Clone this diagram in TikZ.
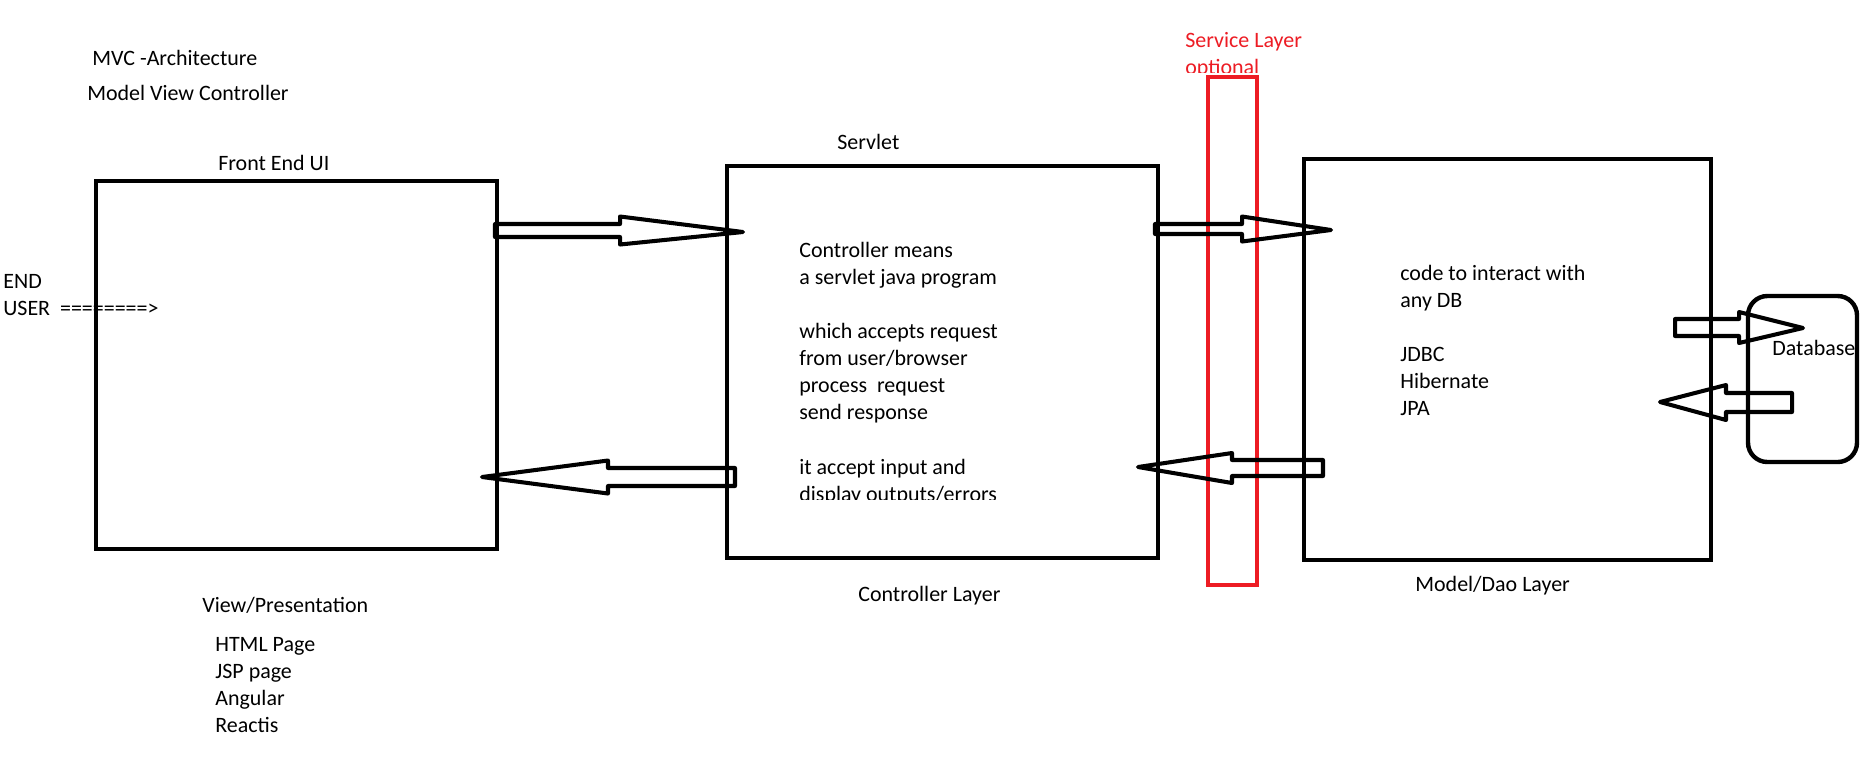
\documentclass[tikz,border=0pt]{standalone}
\usepackage{fontspec}
\setmainfont{Carlito}
\usepackage{tikz}
\usetikzlibrary{calc,fit}

\definecolor{paintred}{RGB}{237,28,36}
\newcommand{\px}{0.5690551pt}
\newcommand{\hollowarrow}[5]{%
 \draw[blockarrow] let \p1=(#1), \p2=(#2) in
  ({\x1},{\y1+#3*\px}) -- ({\x2-(#4)*\px},{\y1+#3*\px}) -- ({\x2-(#4)*\px},{\y1+#5*\px})
  -- (\x2,\y2) -- ({\x2-(#4)*\px},{\y1-#5*\px}) -- ({\x2-(#4)*\px},{\y1-#3*\px})
  -- ({\x1},{\y1-#3*\px}) -- cycle;}

\tikzset{
 box/.style={draw, line width=2.5pt, inner sep=0pt},
 blockarrow/.style={draw, line width=2.3pt, line join=round},
 txt/.style={inner sep=0pt, font=\fontsize{12.5pt}{15.4pt}\selectfont, align=left},
}

\begin{document}
\begin{tikzpicture}[x=0.02cm, y=-0.02cm]
 \path[use as bounding box, fill=white] (0,0) rectangle (1866,769);

 \node[txt, anchor=base west] (title) at (92,65) {MVC -Architecture};

 \node[txt, anchor=base west] (subtitle) at (87,100) {Model View Controller};

 \node[txt, anchor=base west] (uilabel) at (218,170) {Front End UI};

 \node[txt, anchor=base west] (svlabel) at (837,149) {Servlet};

 \node[txt, anchor=north west] (enduser) at (3,274) {END\\USER\ \ ========>};

 \begin{scope}
  \clip (1150,0) rectangle (1320,72);
  \node[txt, text=paintred, anchor=north west] (svclabel) at (1185,32) {Service Layer\\optional};
 \end{scope}

 \node[box, fit={(96,181) (497,549)}] (ui) {};

 \node[box, fit={(727,166) (1158,558)}] (servlet) {};

 \node[box, fit={(1304,159) (1711,560)}] (dao) {};

 \node[box, draw=paintred, fit={(1208,77) (1257,585)}] (service) {};

 \node[box, rounded corners=11pt, fit={(1748,296) (1857,462)}] (db) {};

 \begin{scope}
  \clip (780,230) rectangle (1040,499);
  \node[txt, anchor=north west] (svtext) at (799,242) {Controller means\\a servlet java program\\ \mbox{}\\which accepts request\\from user/browser\\process\ \ request\\send response\\ \mbox{}\\it accept input and\\display outputs/errors};
 \end{scope}

 \node[txt, anchor=north west] (daotext) at (1400,265) {code to interact with\\any DB\\ \mbox{}\\JDBC\\Hibernate\\JPA};

 \node[txt, anchor=base west] (dblabel) at (1772,355) {Database};

 \node[txt, anchor=base west] (svlayer) at (858,601) {Controller Layer};

 \node[txt, anchor=base west] (daolayer) at (1415,591) {Model/Dao Layer};

 \node[txt, anchor=base west] (uilayer) at (202,612) {View/Presentation};

 \node[txt, anchor=north west] (uitech) at (215,637) {HTML Page\\JSP page\\Angular\\Reactis};

 \coordinate (ui-out) at (495,230.5);
 \coordinate (sv-in) at (743,232);
 \coordinate (sv-back) at (735,477);
 \coordinate (ui-in) at (482,477);
 \coordinate (sv-out) at (1155,229);
 \coordinate (dao-in) at (1331,230);
 \coordinate (dao-back) at (1323,468);
 \coordinate (sv-ret) at (1138,467);
 \coordinate (dao-out) at (1675,327.5);
 \coordinate (db-in) at (1803,328);
 \coordinate (db-out) at (1792,402.5);
 \coordinate (dao-ret) at (1660,402);

 \hollowarrow{ui-out}{sv-in}{6.5}{123}{14}
 \hollowarrow{sv-back}{ui-in}{9}{-126}{16.5}
 \hollowarrow{sv-out}{dao-in}{5}{89}{12.5}
 \hollowarrow{dao-back}{sv-ret}{8}{-94}{15}
 \hollowarrow{dao-out}{db-in}{8.5}{64}{15.5}
 \hollowarrow{db-out}{dao-ret}{9.5}{-66}{17.5}

\end{tikzpicture}
\end{document}
